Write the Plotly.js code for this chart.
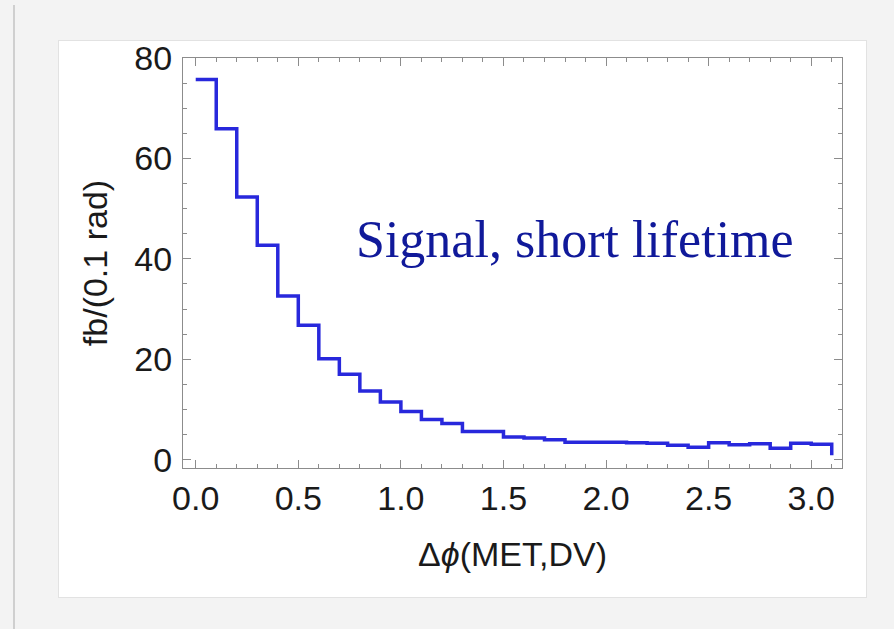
<!DOCTYPE html>
<html>
<head>
<meta charset="utf-8">
<script src="https://cdn.plot.ly/plotly-3.0.1.min.js"></script>
<style>
  html, body { margin: 0; padding: 0; width: 894px; height: 629px; overflow: hidden; background: #f3f3f3; }
  #shadow { position: absolute; left: 13px; top: 5px; width: 2px; height: 624px; background: #cfcfcf; }
  #panel { position: absolute; left: 58px; top: 40px; width: 807px; height: 556px; background: #ffffff; border: 1px solid #e2e2e2; }
  #chart { position: absolute; left: 0; top: 0; width: 894px; height: 629px; }
</style>
</head>
<body>
<div id="shadow"></div>
<div id="panel"></div>
<div id="chart"></div>
<script>
// Bin edges (left edges, rad) and histogram heights in fb/(0.1 rad)
const binEdges = [0.0, 0.1, 0.2, 0.3, 0.4, 0.5, 0.6, 0.7, 0.8, 0.9,
                  1.0, 1.1, 1.2, 1.3, 1.4, 1.5, 1.6, 1.7, 1.8, 1.9,
                  2.0, 2.1, 2.2, 2.3, 2.4, 2.5, 2.6, 2.7, 2.8, 2.9,
                  3.0, 3.1];
const binValues = [75.7, 65.9, 52.3, 42.7, 32.6, 26.8, 20.1, 17.0, 13.7, 11.5,
                   9.6, 8.0, 7.2, 5.6, 5.6, 4.5, 4.3, 4.0, 3.5, 3.5,
                   3.5, 3.4, 3.3, 2.9, 2.5, 3.4, 3.0, 3.2, 2.3, 3.3,
                   3.1, 0.9];
const yTickVals = [0, 20, 40, 60, 80];
const xTickVals = [0.0, 0.5, 1.0, 1.5, 2.0, 2.5, 3.0];
const xTickText = ["0.0", "0.5", "1.0", "1.5", "2.0", "2.5", "3.0"];
const annotationText = "Signal, short lifetime";

const frameColor = "#8c8c8c";
const tickFont = {family: "Liberation Sans, Arial, sans-serif", size: 34, color: "#1a1a1a"};

const trace = {
  x: binEdges,
  y: binValues,
  type: "scatter",
  mode: "lines",
  line: {shape: "hv", color: "#2828dc", width: 3.5},
  hoverinfo: "x+y"
};

const layout = {
  width: 894,
  height: 629,
  margin: {l: 183, r: 52, t: 58, b: 161},
  paper_bgcolor: "rgba(0,0,0,0)",
  plot_bgcolor: "#ffffff",
  showlegend: false,
  font: tickFont,
  xaxis: {
    range: [-0.062, 3.15],
    tickvals: xTickVals,
    ticktext: xTickText,
    ticks: "inside",
    ticklen: 8,
    tickwidth: 1,
    tickcolor: frameColor,
    showline: true,
    linecolor: frameColor,
    linewidth: 1,
    mirror: "allticks",
    showgrid: false,
    zeroline: false,
    tickfont: tickFont,
    ticklabelstandoff: 0,
    minor: {dtick: 0.1, ticks: "inside", ticklen: 4, tickcolor: frameColor, showgrid: false},
    title: {
      text: "Δ<i>ϕ</i>(MET,DV)",
      font: {family: "Liberation Sans, Arial, sans-serif", size: 34, color: "#1a1a1a"},
      standoff: 26
    }
  },
  yaxis: {
    range: [-1.65, 80],
    tickvals: yTickVals,
    ticks: "inside",
    ticklen: 8,
    tickwidth: 1,
    tickcolor: frameColor,
    showline: true,
    linecolor: frameColor,
    linewidth: 1,
    mirror: "allticks",
    showgrid: false,
    zeroline: false,
    tickfont: tickFont,
    ticklabelstandoff: 3,
    minor: {dtick: 5, ticks: "inside", ticklen: 4, tickcolor: frameColor, showgrid: false},
    title: {
      text: "fb/(0.1 rad)",
      font: {family: "Liberation Sans, Arial, sans-serif", size: 34, color: "#1a1a1a"},
      standoff: 16
    }
  },
  annotations: [{
    text: annotationText,
    x: 0.77, y: 43.8,
    xref: "x", yref: "y",
    xanchor: "left", yanchor: "middle",
    showarrow: false,
    font: {family: "Liberation Serif, Times New Roman, serif", size: 52, color: "#10199a"}
  }]
};

Plotly.newPlot("chart", [trace], layout, {staticPlot: true, displayModeBar: false});
</script>
</body>
</html>
